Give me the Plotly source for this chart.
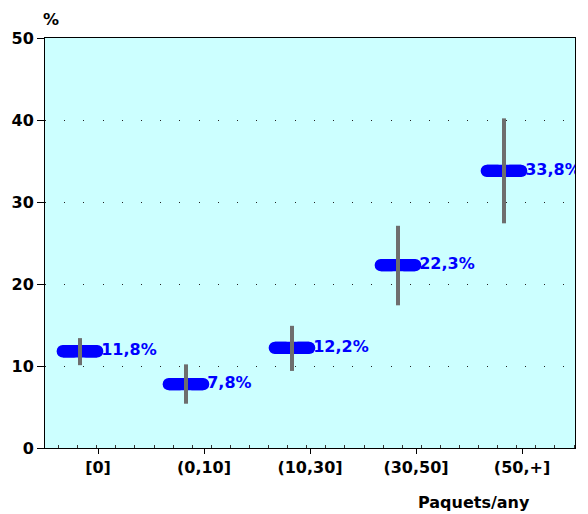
import plotly.graph_objects as go

categories = ["[0]", "(0,10]", "(10,30]", "(30,50]", "(50,+]"]
values = [11.8, 7.8, 12.2, 22.3, 33.8]
lower = [10.1, 5.4, 9.4, 17.4, 27.4]
upper = [13.4, 10.2, 14.9, 27.1, 40.2]
labels = ["11,8%", "7,8%", "12,2%", "22,3%", "33,8%"]

FONT = "DejaVu Sans"
BLUE = "#0000ff"
idx = list(range(len(categories)))
shift = -0.17          # marks sit left of the category centre
half = 0.22            # half length of the blue pill
core = 0.16            # half length of the straight middle part
centers = [i + shift for i in idx]

fig = go.Figure()

# blue pills: two horizontal bars from the centre, rounded at their far ends,
# plus a straight middle part
for sign in (1, -1):
    fig.add_trace(go.Bar(
        orientation="h", y=values, x=[sign * half] * len(values), base=centers,
        width=1.5, marker=dict(color=BLUE, cornerradius=6, line=dict(width=0)),
        showlegend=False, hoverinfo="skip"))
fig.add_trace(go.Bar(
    orientation="h", y=values, x=[2 * core] * len(values),
    base=[c - core for c in centers],
    width=1.5, marker=dict(color=BLUE, line=dict(width=0)),
    showlegend=False, hoverinfo="skip"))

# grey interval bars
fig.add_trace(go.Scatter(
    x=centers, y=values, mode="markers", marker=dict(size=1, opacity=0),
    error_y=dict(type="data", symmetric=False,
                 array=[u - v for u, v in zip(upper, values)],
                 arrayminus=[v - l for v, l in zip(values, lower)],
                 color="#6e6e6e", thickness=4, width=0),
    showlegend=False, hoverinfo="skip"))

# value labels
fig.add_trace(go.Scatter(
    x=[c + half - 0.02 for c in centers], y=values, mode="text", text=labels,
    textposition="middle right",
    textfont=dict(family=FONT, size=16, color=BLUE, weight="bold"),
    showlegend=False, hoverinfo="skip"))

fig.update_layout(
    width=588, height=514, barmode="overlay",
    margin=dict(l=42, r=13, t=38, b=66),
    paper_bgcolor="white", plot_bgcolor="#ccffff",
    font=dict(family=FONT, size=16, color="black", weight="bold"),
    annotations=[
        dict(text="%", xref="paper", yref="paper", x=0.011, y=1.044,
             xanchor="center", yanchor="middle", showarrow=False,
             font=dict(family=FONT, size=16, weight="bold")),
        dict(text="Paquets/any", xref="paper", yref="paper", x=0.81, y=-0.134,
             xanchor="center", yanchor="middle", showarrow=False,
             font=dict(family=FONT, size=16, weight="bold")),
    ],
)

fig.update_xaxes(
    range=[-0.5, 4.5], tickvals=idx, ticktext=categories,
    showgrid=False, zeroline=False,
    showline=True, linecolor="black", linewidth=1, mirror=True,
    ticks="outside", ticklen=5, tickcolor="black",
    tickfont=dict(family=FONT, size=16, weight="bold"),
    minor=dict(tick0=-0.3715, dtick=0.1801, ticks="inside", ticklen=3,
               tickcolor="#333333", showgrid=False),
)
fig.update_yaxes(
    range=[0, 50], dtick=10, zeroline=False,
    showline=True, linecolor="black", linewidth=1, mirror=True,
    ticks="outside", ticklen=7, tickcolor="black",
    tickfont=dict(family=FONT, size=16, weight="bold"),
    showgrid=True, gridcolor="#222222", gridwidth=1, griddash="1px,18.2px",
)

fig.write_html("out.html", config={"displayModeBar": False},
               post_script="document.body.style.margin='0';")
